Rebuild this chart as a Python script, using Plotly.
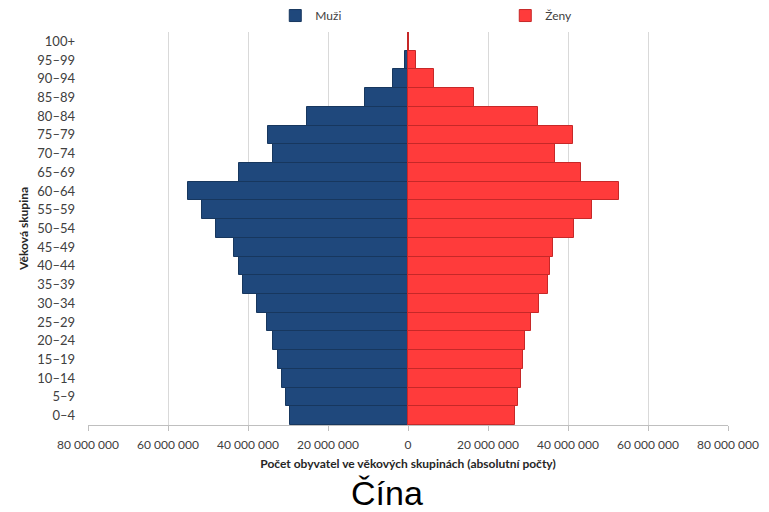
import plotly.graph_objects as go

age_groups = ["0–4", "5–9", "10–14", "15–19", "20–24", "25–29", "30–34", "35–39",
              "40–44", "45–49", "50–54", "55–59", "60–64", "65–69", "70–74", "75–79",
              "80–84", "85–89", "90–94", "95–99", "100+"]

men = [29.6, 30.5, 31.4, 32.5, 33.7, 35.2, 37.8, 41.2, 42.3, 43.4, 48.1, 51.4,
       55.0, 42.3, 33.8, 34.9, 25.2, 10.8, 3.65, 0.8, 0.06]
women = [26.8, 27.5, 28.2, 28.7, 29.3, 30.7, 32.7, 35.0, 35.4, 36.2, 41.6, 46.1,
         52.8, 43.3, 36.8, 41.3, 32.6, 16.5, 6.6, 2.0, 0.2]

men_abs = [v * 1e6 for v in men]
women_abs = [v * 1e6 for v in women]

tick_values = [-80e6, -60e6, -40e6, -20e6, 0, 20e6, 40e6, 60e6, 80e6]
tick_labels = ["80 000 000", "60 000 000", "40 000 000", "20 000 000", "0",
               "20 000 000", "40 000 000", "60 000 000", "80 000 000"]

font_family = "Lato, 'Noto Sans', sans-serif"
text_color = "#404040"

fig = go.Figure()
fig.add_trace(go.Bar(
    y=age_groups, x=[-v for v in men_abs], orientation="h", name="Muži",
    marker=dict(color="#1F487C", line=dict(color="#17375E", width=1)),
))
fig.add_trace(go.Bar(
    y=age_groups, x=women_abs, orientation="h", name="Ženy",
    marker=dict(color="#FF3B3B", line=dict(color="#C62828", width=1)),
))

# page body has an 8px margin, so the figure is 761x504 placed at (8, 8)
fig.update_layout(
    width=761, height=504,
    barmode="overlay", bargap=0,
    plot_bgcolor="white", paper_bgcolor="white",
    margin=dict(l=80, r=41, t=24, b=87, autoexpand=False),
    font=dict(family=font_family, size=12, color=text_color),
    legend=dict(orientation="h", x=0.652, xanchor="center", y=1.005, yanchor="bottom",
                entrywidth=185, entrywidthmode="pixels", itemwidth=30,
                font=dict(size=12, color=text_color), bgcolor="rgba(0,0,0,0)"),
    xaxis=dict(
        range=[-80e6, 80e6], tickvals=tick_values, ticktext=tick_labels,
        showgrid=True, gridcolor="#D9D9D9", gridwidth=1,
        zeroline=False, showline=True, linecolor="#BFBFBF",
        ticks="outside", tickcolor="#BFBFBF", ticklen=5,
        ticklabelstandoff=4,
        tickfont=dict(size=12, color=text_color),
        title=dict(text="<b>Počet obyvatel ve věkových skupinách (absolutní počty)</b>",
                   font=dict(size=12, color="#262626"), standoff=8),
    ),
    yaxis=dict(
        showgrid=False, zeroline=False, showline=False,
        tickfont=dict(size=13, color=text_color),
        title=dict(text="<b>Věková skupina</b>", font=dict(size=12, color="#262626"),
                   standoff=6),
        ticklabelstandoff=12,
    ),
    annotations=[dict(text="Čína", x=0.467, y=-0.173, xref="paper", yref="paper",
                      xanchor="center", yanchor="middle", showarrow=False,
                      font=dict(family="'Liberation Sans', Arial, sans-serif",
                                size=34, color="black"))],
)

fig.write_html("out.html")
